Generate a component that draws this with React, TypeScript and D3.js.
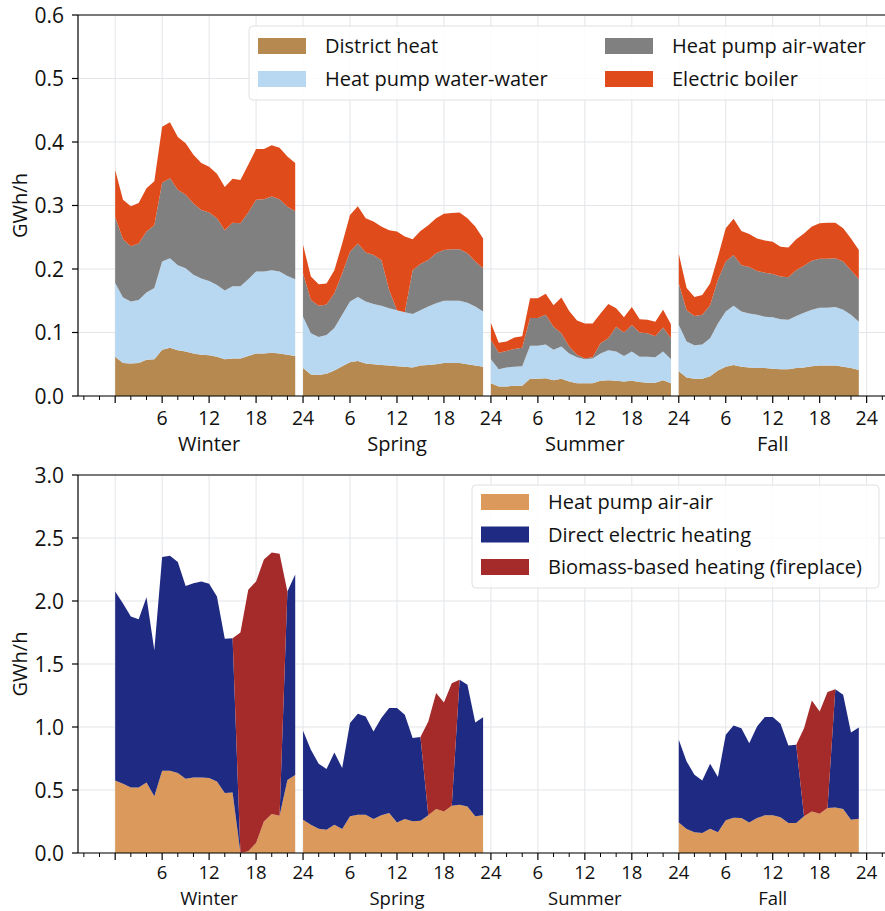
import React from "react";
import * as d3 from "d3";

const seasons = ["Winter", "Spring", "Summer", "Fall"];
const hourTicks = d3.range(0, 97, 6);

// Top panel (GWh/h)
const districtHeat = [
  [0.062,0.052,0.051,0.052,0.057,0.058,0.073,0.076,0.072,0.070,0.067,0.065,0.064,0.062,0.058,0.059,0.059,0.063,0.067,0.067,0.068,0.067,0.065,0.063],
  [0.044,0.034,0.033,0.035,0.040,0.047,0.053,0.055,0.051,0.050,0.049,0.048,0.047,0.046,0.045,0.048,0.049,0.050,0.052,0.052,0.052,0.050,0.048,0.046],
  [0.020,0.015,0.015,0.016,0.016,0.027,0.027,0.028,0.025,0.027,0.023,0.020,0.020,0.020,0.024,0.025,0.024,0.023,0.024,0.022,0.021,0.021,0.025,0.020],
  [0.039,0.029,0.027,0.027,0.031,0.040,0.046,0.049,0.046,0.045,0.044,0.044,0.043,0.042,0.042,0.044,0.045,0.047,0.048,0.048,0.048,0.046,0.044,0.041],
];
const hpWaterWater = [
  [0.116,0.103,0.098,0.099,0.106,0.112,0.139,0.141,0.134,0.131,0.124,0.120,0.117,0.113,0.108,0.114,0.114,0.121,0.129,0.129,0.130,0.129,0.124,0.121],
  [0.081,0.065,0.060,0.061,0.067,0.081,0.096,0.101,0.098,0.095,0.093,0.090,0.088,0.086,0.084,0.087,0.092,0.096,0.098,0.098,0.098,0.097,0.093,0.087],
  [0.038,0.027,0.030,0.030,0.031,0.052,0.052,0.053,0.048,0.051,0.044,0.041,0.038,0.039,0.043,0.047,0.046,0.040,0.046,0.040,0.041,0.040,0.045,0.038],
  [0.073,0.057,0.053,0.054,0.060,0.074,0.087,0.093,0.087,0.085,0.084,0.081,0.081,0.079,0.078,0.082,0.086,0.089,0.091,0.091,0.092,0.090,0.084,0.076],
];
const hpAirWater = [
  [0.104,0.092,0.087,0.089,0.096,0.099,0.124,0.126,0.119,0.116,0.112,0.108,0.108,0.105,0.095,0.100,0.099,0.105,0.113,0.114,0.116,0.114,0.109,0.107],
  [0.068,0.052,0.049,0.048,0.055,0.065,0.078,0.084,0.077,0.077,0.072,0.029,0.000,0.000,0.069,0.073,0.073,0.079,0.080,0.081,0.081,0.078,0.071,0.068],
  [0.030,0.026,0.026,0.028,0.029,0.044,0.044,0.047,0.036,0.021,0.011,0.004,0.001,0.002,0.016,0.019,0.039,0.037,0.042,0.038,0.037,0.033,0.038,0.033],
  [0.065,0.049,0.046,0.047,0.052,0.069,0.079,0.080,0.073,0.073,0.069,0.069,0.068,0.067,0.067,0.072,0.074,0.077,0.077,0.077,0.077,0.076,0.070,0.067],
];
const electricBoiler = [
  [0.074,0.062,0.063,0.064,0.068,0.069,0.088,0.088,0.083,0.081,0.077,0.074,0.072,0.070,0.068,0.069,0.068,0.075,0.080,0.079,0.081,0.081,0.079,0.076],
  [0.045,0.037,0.034,0.033,0.036,0.047,0.058,0.059,0.054,0.053,0.053,0.094,0.124,0.119,0.049,0.052,0.055,0.055,0.057,0.057,0.058,0.055,0.055,0.047],
  [0.027,0.016,0.015,0.018,0.018,0.031,0.031,0.033,0.034,0.056,0.056,0.054,0.055,0.053,0.047,0.054,0.029,0.024,0.028,0.021,0.021,0.023,0.028,0.022],
  [0.047,0.035,0.030,0.031,0.034,0.036,0.052,0.057,0.054,0.052,0.051,0.051,0.051,0.047,0.047,0.049,0.051,0.054,0.056,0.057,0.056,0.052,0.050,0.046],
];

// Bottom panel (GWh/h)
const hpAirAir = [
  [0.576,0.55,0.52,0.52,0.56,0.45,0.653,0.653,0.634,0.59,0.6,0.6,0.595,0.568,0.476,0.48,0,0.013,0.08,0.25,0.31,0.296,0.58,0.62],
  [0.264,0.225,0.193,0.185,0.225,0.19,0.291,0.304,0.304,0.27,0.299,0.317,0.243,0.27,0.251,0.256,0.299,0.349,0.33,0.375,0.383,0.37,0.291,0.299],
  [0,0,0,0,0,0,0,0,0,0,0,0,0,0,0,0,0,0,0,0,0,0,0,0],
  [0.243,0.19,0.164,0.159,0.193,0.164,0.259,0.28,0.278,0.243,0.278,0.299,0.299,0.283,0.238,0.238,0.291,0.33,0.312,0.357,0.362,0.349,0.264,0.272],
];
const directElectric = [
  [1.499,1.43,1.357,1.336,1.47,1.16,1.697,1.707,1.676,1.53,1.54,1.555,1.541,1.467,1.224,1.225,0,0,0,0,0,0,1.495,1.59],
  [0.706,0.595,0.515,0.481,0.573,0.484,0.740,0.801,0.780,0.695,0.772,0.833,0.907,0.827,0.661,0.664,0,0,0,0,0.992,0.965,0.745,0.779],
  [0,0,0,0,0,0,0,0,0,0,0,0,0,0,0,0,0,0,0,0,0,0,0,0],
  [0.656,0.537,0.457,0.417,0.515,0.439,0.679,0.732,0.713,0.629,0.726,0.780,0.780,0.743,0.616,0.621,0,0,0,0,0.938,0.907,0.693,0.725],
];
const biomass = [
  [0,0,0,0,0,0,0,0,0,0,0,0,0,0,0,0,1.75,2.077,2.075,2.08,2.075,2.079,0,0],
  [0,0,0,0,0,0,0,0,0,0,0,0,0,0,0,0,0.745,0.920,0.865,0.973,0,0,0,0],
  [0,0,0,0,0,0,0,0,0,0,0,0,0,0,0,0,0,0,0,0,0,0,0,0],
  [0,0,0,0,0,0,0,0,0,0,0,0,0,0,0,0,0.700,0.881,0.811,0.920,0,0,0,0],
];

const topSeries = [
  { name: "District heat", color: "#b5894f", data: districtHeat },
  { name: "Heat pump water-water", color: "#b8d7f1", data: hpWaterWater },
  { name: "Heat pump air-water", color: "#808080", data: hpAirWater },
  { name: "Electric boiler", color: "#e04b1c", data: electricBoiler },
];
const bottomSeries = [
  { name: "Heat pump air-air", color: "#db9a5b", data: hpAirAir },
  { name: "Direct electric heating", color: "#1f2a82", data: directElectric },
  { name: "Biomass-based heating (fireplace)", color: "#a52a2a", data: biomass },
];

const FONT = "'Open Sans', sans-serif";
const W = 885;
const H = 911;

const x = d3.scaleLinear().domain([-4.75, 99.75]).range([78, 896]);

type Series = { name: string; color: string; data: number[][] };

function Panel({ series, y, yTicks, top, bottom, legend, tickOff, seasonOff, tickSize, seasonSize }: {
  series: Series[]; y: d3.ScaleLinear<number, number>; yTicks: number[];
  top: number; bottom: number; legend: React.ReactNode; tickOff: number; seasonOff: number;
  tickSize: number; seasonSize: number;
}) {
  const left = 78;
  const right = 896;
  const minor = d3.range(-4, 99, 2).filter((v) => v % 6 !== 0);
  const areas: React.ReactNode[] = [];
  seasons.forEach((_, si) => {
    const rows = d3.range(24).map((k) => {
      const r: any = { h: si * 24 + k };
      series.forEach((s) => (r[s.name] = s.data[si][k]));
      return r;
    });
    const stacked = d3.stack<any>().keys(series.map((s) => s.name))(rows);
    const area = d3.area<any>()
      .x((d) => x(d.data.h))
      .y0((d) => y(d[0]))
      .y1((d) => y(d[1]));
    stacked.forEach((layer, li) => {
      areas.push(<path key={`${si}-${li}`} d={area(layer) || ""} fill={series[li].color} />);
    });
  });
  return (
    <g>
      {hourTicks.map((t) => (
        <line key={`gx${t}`} x1={x(t)} x2={x(t)} y1={top} y2={bottom} stroke="#e3e5e8" strokeWidth={1} />
      ))}
      {yTicks.map((t) => (
        <line key={`gy${t}`} x1={left} x2={right} y1={y(t)} y2={y(t)} stroke="#e3e5e8" strokeWidth={1} />
      ))}
      {areas}
      {legend}
      <line x1={left} x2={right} y1={top} y2={top} stroke="#000" strokeWidth={1.2} />
      <line x1={left} x2={left} y1={top} y2={bottom} stroke="#000" strokeWidth={1.2} />
      <line x1={left} x2={right} y1={bottom} y2={bottom} stroke="#000" strokeWidth={1.2} />
      {yTicks.map((t) => (
        <g key={`yt${t}`}>
          <line x1={left - 6} x2={left} y1={y(t)} y2={y(t)} stroke="#000" strokeWidth={1.2} />
          <text x={left - 14} y={y(t)} dy="0.36em" textAnchor="end" fontSize={21} fontFamily={FONT} fill="#111">
            {d3.format(".1f")(t)}
          </text>
        </g>
      ))}
      {hourTicks.map((t) => (
        <g key={`xt${t}`}>
          <line x1={x(t)} x2={x(t)} y1={bottom} y2={bottom + 7} stroke="#000" strokeWidth={1.2} />
          {t > 0 && (
            <text x={x(t)} y={bottom + tickOff} textAnchor="middle" fontSize={tickSize} fontFamily={FONT} fill="#111">
              {((t - 1) % 24) + 1}
            </text>
          )}
        </g>
      ))}
      {minor.map((t) => (
        <line key={`mx${t}`} x1={x(t)} x2={x(t)} y1={bottom} y2={bottom + 4} stroke="#000" strokeWidth={1} />
      ))}
      {seasons.map((s, si) => (
        <text key={s} x={x(si * 24 + 12)} y={bottom + seasonOff} textAnchor="middle" fontSize={seasonSize} fontFamily={FONT} fill="#111">
          {s}
        </text>
      ))}
      <text transform={`translate(27,${(top + bottom) / 2}) rotate(-90)`} textAnchor="middle" fontSize={20} fontFamily={FONT} fill="#111">
        GWh/h
      </text>
    </g>
  );
}

function LegendBox({ x0, y0, w, h, items }: {
  x0: number; y0: number; w: number; h: number;
  items: { name: string; color: string; px: number; py: number }[];
}) {
  return (
    <g>
      <rect x={x0} y={y0} width={w} height={h} rx={4} fill="#fff" fillOpacity={0.85} stroke="#e0e0e0" strokeWidth={1} />
      {items.map((it) => (
        <g key={it.name}>
          <rect x={it.px} y={it.py - 8} width={48} height={16} fill={it.color} />
          <text x={it.px + 67} y={it.py} dy="0.36em" fontSize={20} fontFamily={FONT} fill="#111">
            {it.name}
          </text>
        </g>
      ))}
    </g>
  );
}

export default function App() {
  const yTop = d3.scaleLinear().domain([0, 0.6]).range([396, 15]);
  const yBot = d3.scaleLinear().domain([0, 3]).range([853, 475]);
  const topLegend = (
    <LegendBox
      x0={249} y0={26} w={640} h={74}
      items={[
        { name: topSeries[0].name, color: topSeries[0].color, px: 258, py: 46 },
        { name: topSeries[1].name, color: topSeries[1].color, px: 258, py: 79 },
        { name: topSeries[2].name, color: topSeries[2].color, px: 605, py: 46 },
        { name: topSeries[3].name, color: topSeries[3].color, px: 605, py: 79 },
      ]}
    />
  );
  const botLegend = (
    <LegendBox
      x0={472} y0={485} w={407} h={103}
      items={bottomSeries.map((s, i) => ({ name: s.name, color: s.color, px: 481, py: 502 + i * 32.5 }))}
    />
  );
  return (
    <svg width={W} height={H} style={{ position: "absolute", left: 0, top: 0, background: "#fff" }}>
      <rect width={W} height={H} fill="#fff" />
      <Panel series={topSeries} y={yTop} yTicks={d3.range(0, 0.61, 0.1)} top={15} bottom={396} legend={topLegend}
        tickOff={29} seasonOff={55} tickSize={19.5} seasonSize={20} />
      <Panel series={bottomSeries} y={yBot} yTicks={d3.range(0, 3.01, 0.5)} top={475} bottom={853} legend={botLegend}
        tickOff={26} seasonOff={52} tickSize={18.5} seasonSize={18.5} />
    </svg>
  );
}
